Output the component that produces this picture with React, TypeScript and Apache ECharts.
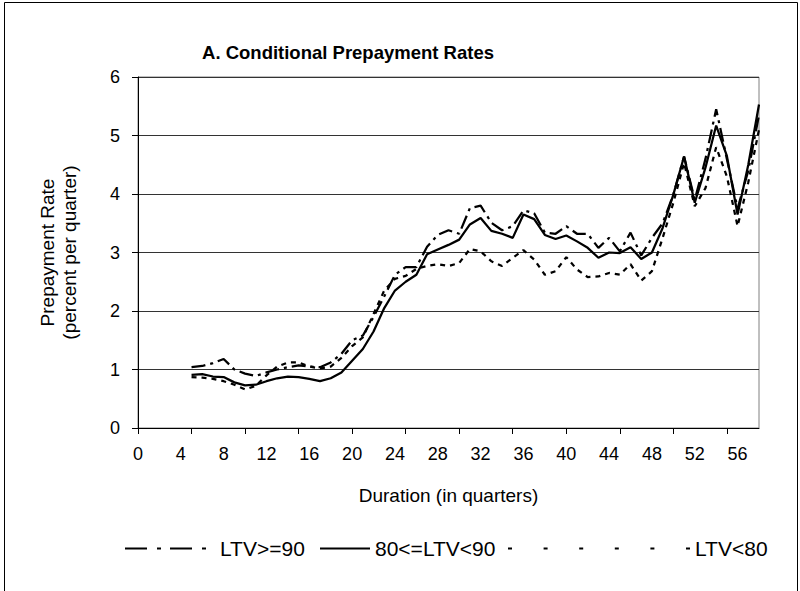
import React, { useEffect, useRef } from "react";
import * as echarts from "echarts";

const durations = [
  5, 6, 7, 8, 9, 10, 11, 12, 13, 14, 15, 16, 17, 18, 19, 20, 21, 22, 23, 24, 25, 26, 27, 28, 29, 30, 31,
  32, 33, 34, 35, 36, 37, 38, 39, 40, 41, 42, 43, 44, 45, 46, 47, 48, 49, 50, 51, 52, 53, 54, 55, 56, 57, 58,
];

const ltv90 = [
  1.04, 1.06, 1.11, 1.18, 1.0, 0.93, 0.89, 0.95, 1.0, 1.04, 1.07, 1.05, 1.04, 1.12, 1.27, 1.5, 1.58, 1.9, 2.25,
  2.62, 2.75, 2.75, 3.1, 3.3, 3.38, 3.32, 3.76, 3.8, 3.51, 3.38, 3.45, 3.72, 3.67, 3.34, 3.32, 3.45, 3.32, 3.32,
  3.08, 3.25, 3.02, 3.34, 2.95, 3.25, 3.5, 3.99, 4.64, 3.9, 4.6, 5.45, 4.6, 3.75, 4.4, 5.35,
];

const ltv80to90 = [
  0.91, 0.92, 0.88, 0.87, 0.78, 0.73, 0.74, 0.8, 0.85, 0.88, 0.87, 0.84, 0.8, 0.85, 0.95, 1.15, 1.35, 1.65, 2.05,
  2.35, 2.5, 2.62, 2.97, 3.05, 3.13, 3.22, 3.48, 3.59, 3.37, 3.32, 3.25, 3.65, 3.57, 3.3, 3.23, 3.29, 3.19, 3.08,
  2.91, 3.0, 2.99, 3.09, 2.89, 3.0, 3.42, 3.99, 4.64, 3.85, 4.45, 5.17, 4.65, 3.65, 4.5, 5.53,
];

const ltvBelow80 = [
  0.87, 0.86, 0.84, 0.8, 0.74, 0.66, 0.72, 0.9, 1.05, 1.12, 1.12, 1.05, 1.02, 1.05, 1.2, 1.4, 1.55, 1.95, 2.35,
  2.55, 2.6, 2.72, 2.77, 2.8, 2.77, 2.82, 3.06, 3.02, 2.85, 2.77, 2.91, 3.04, 2.88, 2.62, 2.68, 2.92, 2.71, 2.58,
  2.59, 2.65, 2.62, 2.8, 2.52, 2.68, 3.25, 3.85, 4.53, 3.79, 4.1, 4.8, 4.3, 3.45, 4.2, 5.1,
];

const seriesNames = ["LTV>=90", "80<=LTV<90", "LTV<80"];
const xLabelValues = [0, 4, 8, 12, 16, 20, 24, 28, 32, 36, 40, 44, 48, 52, 56];
const xTickValues = [0, 5, 10, 15, 20, 25, 30, 35, 40, 45, 50, 55];

const FONT = "'Liberation Sans', Arial, sans-serif";

export default function App() {
  const ref = useRef<HTMLDivElement>(null);
  useEffect(() => {
    if (!ref.current) return;
    const chart = echarts.init(ref.current, undefined, { renderer: "svg" });
    const pairs = (vals: number[]) => durations.map((d, i) => [d, vals[i]]);
    const legendBase = {
      orient: "horizontal",
      top: 533,
      itemHeight: 4,
      itemStyle: { opacity: 0 },
      textStyle: { fontFamily: FONT, fontSize: 21, color: "#000" },
    };
    chart.setOption({
      animation: false,
      backgroundColor: "#ffffff",
      textStyle: { fontFamily: FONT, color: "#000" },
      title: {
        text: "A. Conditional Prepayment Rates",
        left: 343,
        top: 38,
        textAlign: "center",
        textStyle: { fontFamily: FONT, fontSize: 18.5, fontWeight: "bold", color: "#000" },
      },
      graphic: [
        { type: "line", shape: { x1: 4.5, y1: 2.5, x2: 4.5, y2: 591 }, style: { stroke: "#000", lineWidth: 1 } },
        { type: "line", shape: { x1: 4.5, y1: 2.5, x2: 797.5, y2: 2.5 }, style: { stroke: "#000", lineWidth: 1 } },
        { type: "line", shape: { x1: 797.5, y1: 2.5, x2: 797.5, y2: 591 }, style: { stroke: "#000", lineWidth: 1 } },
      ],
      grid: {
        left: 138,
        top: 77,
        width: 621,
        height: 351,
        show: true,
        borderColor: "#808080",
        borderWidth: 1,
        backgroundColor: "transparent",
      },
      legend: [
        {
          ...legendBase,
          data: [seriesNames[0]],
          left: 119,
          itemWidth: 90,
          lineStyle: { type: [22, 10, 4, 9] },
        },
        {
          ...legendBase,
          data: [seriesNames[1]],
          left: 314,
          itemWidth: 50,
        },
        {
          ...legendBase,
          data: [seriesNames[2]],
          left: 502,
          itemWidth: 182,
          lineStyle: { type: [4, 31.6] },
        },
      ],
      xAxis: {
        type: "value",
        min: 0,
        max: 58,
        name: "Duration (in quarters)",
        nameLocation: "middle",
        nameGap: 58,
        nameTextStyle: { fontFamily: FONT, fontSize: 19, color: "#000" },
        axisLine: { show: true, lineStyle: { color: "#000", width: 1 } },
        axisTick: { show: true, length: 6, customValues: xTickValues, lineStyle: { color: "#000" } },
        axisLabel: {
          customValues: xLabelValues,
          margin: 17,
          fontFamily: FONT,
          fontSize: 18,
          color: "#000",
        },
        splitLine: { show: false },
      },
      yAxis: {
        type: "value",
        min: 0,
        max: 6,
        interval: 1,
        name: "Prepayment Rate\n(percent per quarter)",
        nameLocation: "middle",
        nameGap: 58,
        nameRotate: 90,
        nameTextStyle: { fontFamily: FONT, fontSize: 19, color: "#000", lineHeight: 22 },
        axisLine: { show: true, lineStyle: { color: "#000", width: 1 } },
        axisTick: { show: true, length: 6, lineStyle: { color: "#000" } },
        axisLabel: { margin: 18, fontFamily: FONT, fontSize: 18, color: "#000" },
        splitLine: { show: true, lineStyle: { color: "#333", width: 1 } },
      },
      series: [
        {
          name: seriesNames[0],
          type: "line",
          data: pairs(ltv90),
          showSymbol: false,
          symbol: "none",
          lineStyle: { color: "#000", width: 2.25, type: [14, 5, 3, 5] },
          itemStyle: { color: "#000" },
        },
        {
          name: seriesNames[1],
          type: "line",
          data: pairs(ltv80to90),
          showSymbol: false,
          symbol: "none",
          lineStyle: { color: "#000", width: 2.25, type: "solid" },
          itemStyle: { color: "#000" },
        },
        {
          name: seriesNames[2],
          type: "line",
          data: pairs(ltvBelow80),
          showSymbol: false,
          symbol: "none",
          lineStyle: { color: "#000", width: 2.25, type: [5, 5] },
          itemStyle: { color: "#000" },
        },
      ],
    });
    return () => chart.dispose();
  }, []);
  return (
    <div
      ref={ref}
      style={{ position: "fixed", left: 0, top: 0, width: 800, height: 591, background: "#fff" }}
    />
  );
}
